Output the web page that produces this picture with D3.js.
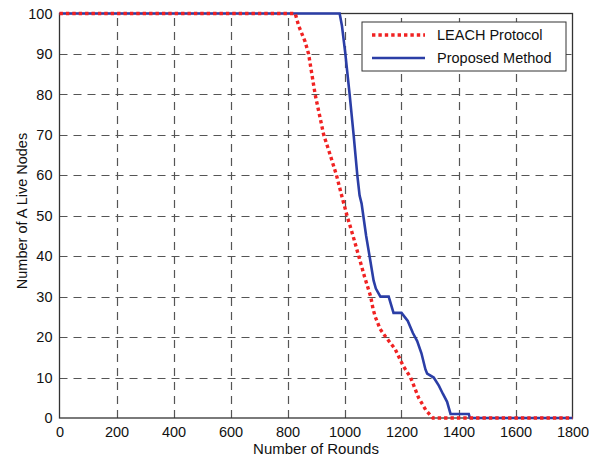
<!DOCTYPE html>
<html>
<head>
<meta charset="utf-8">
<script src="https://cdn.jsdelivr.net/npm/d3@7"></script>
<style>
  html, body { margin: 0; padding: 0; background: #fff; }
  svg { display: block; font-family: Arial, "Liberation Sans", sans-serif; }
</style>
</head>
<body>
<div id="chart"></div>
<script>
const WIDTH = 589;
const HEIGHT = 460;

// values: [round, alive nodes]
const leachRounds = [0, 827, 839, 862, 874, 897, 918, 927, 950, 972, 990, 1009, 1030, 1050, 1070, 1092, 1100, 1108, 1125, 1145, 1178, 1205, 1232, 1260, 1285, 1310, 1800];
const leachAlive  = [100, 100, 97, 93, 90, 80, 73, 70, 65, 60, 55, 50, 45, 40, 35, 30, 27, 25, 22, 20, 17, 13, 10, 5, 2, 0, 0];

const propRounds = [0, 983, 991, 1003, 1018, 1032, 1045, 1053, 1060, 1066, 1076, 1088, 1102, 1110, 1126, 1155, 1172, 1200, 1222, 1240, 1255, 1270, 1284, 1290, 1313, 1331, 1345, 1360, 1372, 1436, 1440, 1800];
const propAlive  = [100, 100, 97, 90, 80, 70, 60, 55, 53, 50, 45, 40, 34, 32, 30, 30, 26, 26, 24, 21, 19, 16, 12, 11, 10, 8, 6, 4, 1, 1, 0, 0];

const xTicks = [0, 200, 400, 600, 800, 1000, 1200, 1400, 1600, 1800];
const yTicks = [0, 10, 20, 30, 40, 50, 60, 70, 80, 90, 100];

const seriesNames = ['LEACH Protocol', 'Proposed Method'];

const margin = { left: 59.5, right: 16.5, top: 13.5, bottom: 42 };

const svg = d3.select('#chart').append('svg')
  .attr('width', WIDTH)
  .attr('height', HEIGHT);

const x = d3.scaleLinear().domain([0, 1800]).range([margin.left, WIDTH - margin.right]);
const y = d3.scaleLinear().domain([0, 100]).range([HEIGHT - margin.bottom, margin.top]);

// grid (dashed)
const grid = svg.append('g').attr('class', 'grid')
  .attr('stroke', '#555')
  .attr('stroke-width', 1.2)
  .attr('stroke-dasharray', '8,6');

grid.selectAll('line.gx')
  .data(xTicks.slice(1, -1))
  .enter().append('line')
  .attr('x1', d => Math.round(x(d)) + 0.5).attr('x2', d => Math.round(x(d)) + 0.5)
  .attr('y1', y(0)).attr('y2', y(100));

grid.selectAll('line.gy')
  .data(yTicks.slice(1, -1))
  .enter().append('line')
  .attr('y1', d => Math.round(y(d)) + 0.5).attr('y2', d => Math.round(y(d)) + 0.5)
  .attr('x1', x(0)).attr('x2', x(1800));

// axes
const xAxis = svg.append('g')
  .attr('transform', `translate(0,${y(0)})`)
  .call(d3.axisBottom(x).tickValues(xTicks).tickSize(0).tickPadding(9).tickFormat(d3.format('d')));
const yAxis = svg.append('g')
  .attr('transform', `translate(${x(0)},0)`)
  .call(d3.axisLeft(y).tickValues(yTicks).tickSize(0).tickPadding(7).tickFormat(d3.format('d')));

[xAxis, yAxis].forEach(a => {
  a.select('.domain').remove();
  a.selectAll('text').attr('font-size', 14.5).attr('fill', '#111')
    .attr('font-family', 'Arial, "Liberation Sans", sans-serif');
});

// box
svg.append('rect')
  .attr('x', x(0)).attr('y', y(100))
  .attr('width', x(1800) - x(0)).attr('height', y(0) - y(100))
  .attr('fill', 'none').attr('stroke', '#333').attr('stroke-width', 1.3);

// lines
const line = d3.line().x(d => x(d[0])).y(d => y(d[1]));
const propData = propRounds.map((r, i) => [r, propAlive[i]]);
const leachData = leachRounds.map((r, i) => [r, leachAlive[i]]);

svg.append('path')
  .datum(propData)
  .attr('d', line)
  .attr('fill', 'none')
  .attr('stroke', '#2b3ea6')
  .attr('stroke-width', 2.6)
  .attr('stroke-linejoin', 'miter');

svg.append('path')
  .datum(leachData)
  .attr('d', line)
  .attr('fill', 'none')
  .attr('stroke', '#f02222')
  .attr('stroke-width', 3.4)
  .attr('stroke-dasharray', '3.4,3');

// axis titles
svg.append('text')
  .attr('x', 316).attr('y', 454)
  .attr('text-anchor', 'middle')
  .attr('font-size', 15).attr('fill', '#111')
  .text('Number of Rounds');

svg.append('text')
  .attr('transform', 'translate(27,211) rotate(-90)')
  .attr('text-anchor', 'middle')
  .attr('font-size', 14.5).attr('fill', '#111')
  .text('Number of A Live Nodes');

// legend
const legend = svg.append('g').attr('transform', 'translate(362,22)');
legend.append('rect')
  .attr('width', 204).attr('height', 49)
  .attr('fill', '#fff').attr('stroke', '#333').attr('stroke-width', 1);

const legendStyles = [
  { color: '#f02222', width: 3.4, dash: '3.4,3' },
  { color: '#2b3ea6', width: 2.6, dash: null }
];
seriesNames.forEach((name, i) => {
  const row = legend.append('g').attr('transform', `translate(0,${13 + i * 23})`);
  row.append('line')
    .attr('x1', 10).attr('x2', 63)
    .attr('stroke', legendStyles[i].color)
    .attr('stroke-width', legendStyles[i].width)
    .attr('stroke-dasharray', legendStyles[i].dash);
  row.append('text')
    .attr('x', 75).attr('y', 5)
    .attr('font-size', 14.5).attr('fill', '#111')
    .text(name);
});
</script>
</body>
</html>
